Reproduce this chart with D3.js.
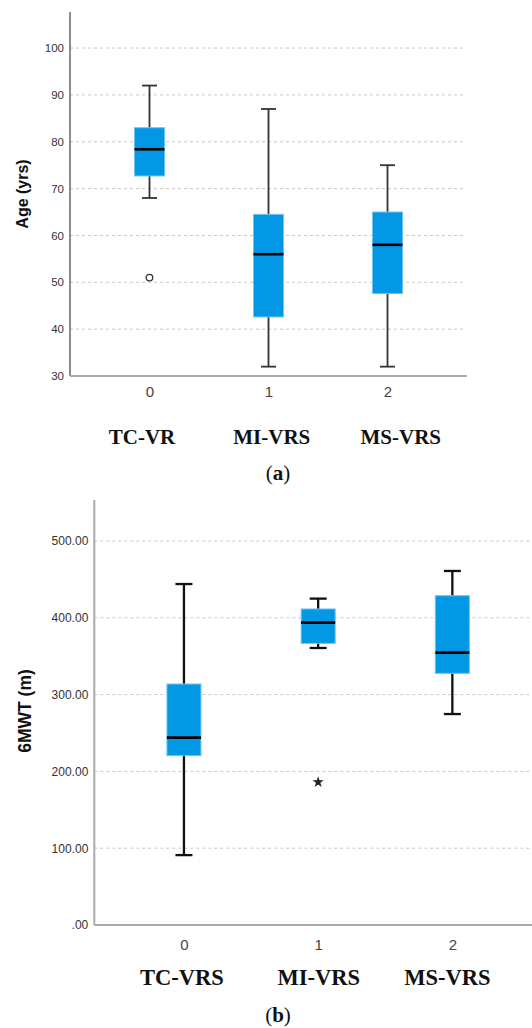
<!DOCTYPE html>
<html>
<head>
<meta charset="utf-8">
<script src="https://cdn.jsdelivr.net/npm/d3@7"></script>
<style>
  body { margin: 0; background: #fff; }
  svg { display: block; }
</style>
</head>
<body>
<script>
// group codes on the x axis and the names printed under them
const groupCodes = ["0", "1", "2"];
const ageGroups = ["TC-VR", "MI-VRS", "MS-VRS"];
const walkGroups = ["TC-VRS", "MI-VRS", "MS-VRS"];

// box stats: [lower whisker, Q1, median, Q3, upper whisker]
const ageStats = [
    [68, 72.7, 78.4, 83, 92],
    [32, 42.6, 56, 64.5, 87],
    [32, 47.6, 58, 65, 75]
];
const ageOutliers = [{ group: "0", value: 51, kind: "circle" }];
const ageTicks = [30, 40, 50, 60, 70, 80, 90, 100];

const walkStats = [
    [91, 220.5, 244, 313.8, 444],
    [360.7, 366.7, 393.7, 411.5, 425],
    [274.7, 327.7, 354.6, 428.8, 461]
];
const walkOutliers = [{ group: "1", value: 186, kind: "star" }];
const walkTicks = [0, 100, 200, 300, 400, 500];

const svg = d3.select("body").append("svg")
    .attr("width", 532)
    .attr("height", 1028);

function drawPanel(p) {
    var g = svg.append("g");

    var x = d3.scalePoint()
        .domain(groupCodes)
        .range([p.left, p.right])
        .padding(0.668);

    var y = d3.scaleLinear()
        .domain(p.domain)
        .range([p.bottom, p.top]);

    // dashed grid lines
    g.append("g").selectAll("line")
        .data(p.ticks.filter(function (t) { return t !== p.domain[0]; }))
        .enter().append("line")
        .attr("x1", p.left)
        .attr("x2", p.gridEnd)
        .attr("y1", function (d) { return y(d); })
        .attr("y2", function (d) { return y(d); })
        .attr("stroke", "#c8c8c8")
        .attr("stroke-width", 1)
        .attr("stroke-dasharray", "3,3");

    // y axis
    var yAxis = d3.axisLeft(y)
        .tickValues(p.ticks)
        .tickSize(0)
        .tickPadding(6)
        .tickFormat(p.format);
    var ya = g.append("g")
        .attr("transform", "translate(" + p.left + ",0)")
        .call(yAxis);
    ya.select(".domain").remove();
    ya.selectAll("text")
        .attr("font-family", "Liberation Sans, Arial, sans-serif")
        .attr("font-size", p.tickSize)
        .attr("fill", "#333");

    // axis lines
    g.append("line")
        .attr("x1", p.left).attr("x2", p.left)
        .attr("y1", p.top).attr("y2", p.bottom)
        .attr("stroke", p.axisColor)
        .attr("stroke-width", p.axisWidth);
    g.append("line")
        .attr("x1", p.left).attr("x2", p.gridEnd + 2)
        .attr("y1", p.bottom).attr("y2", p.bottom)
        .attr("stroke", "#aaa")
        .attr("stroke-width", 2);

    // x axis codes
    var xAxis = d3.axisBottom(x).tickSize(0).tickPadding(0);
    var xa = g.append("g")
        .attr("transform", "translate(0," + p.bottom + ")")
        .call(xAxis);
    xa.select(".domain").remove();
    xa.selectAll("text")
        .attr("dy", null)
        .attr("y", p.codeY - p.bottom)
        .attr("font-family", "Liberation Sans, Arial, sans-serif")
        .attr("font-size", 15)
        .attr("fill", "#444");

    // boxes
    var boxes = g.append("g").selectAll("g")
        .data(p.stats)
        .enter().append("g")
        .attr("transform", function (d, i) { return "translate(" + x(groupCodes[i]) + ",0)"; });

    boxes.append("line")
        .attr("x1", 0).attr("x2", 0)
        .attr("y1", function (d) { return y(d[0]); })
        .attr("y2", function (d) { return y(d[4]); })
        .attr("stroke", p.whiskerColor)
        .attr("stroke-width", p.whiskerWidth);
    boxes.selectAll(".cap")
        .data(function (d) { return [d[0], d[4]]; })
        .enter().append("line")
        .attr("class", "cap")
        .attr("x1", -p.capW / 2).attr("x2", p.capW / 2)
        .attr("y1", function (v) { return y(v); })
        .attr("y2", function (v) { return y(v); })
        .attr("stroke", p.whiskerColor)
        .attr("stroke-width", p.whiskerWidth);
    boxes.append("rect")
        .attr("x", -p.boxW / 2)
        .attr("width", p.boxW)
        .attr("y", function (d) { return y(d[3]); })
        .attr("height", function (d) { return y(d[1]) - y(d[3]); })
        .attr("fill", "#0398e5")
        .attr("stroke", "#6ec3ef")
        .attr("stroke-width", 1);
    boxes.append("line")
        .attr("x1", -p.boxW / 2).attr("x2", p.boxW / 2)
        .attr("y1", function (d) { return y(d[2]); })
        .attr("y2", function (d) { return y(d[2]); })
        .attr("stroke", "#000")
        .attr("stroke-width", 2.6);

    // outliers
    p.outliers.forEach(function (o) {
        if (o.kind === "circle") {
            g.append("circle")
                .attr("cx", x(o.group)).attr("cy", y(o.value))
                .attr("r", 3.3)
                .attr("fill", "#fff")
                .attr("stroke", "#333")
                .attr("stroke-width", 1.3);
        } else {
            g.append("path")
                .attr("transform", "translate(" + x(o.group) + "," + y(o.value) + ")")
                .attr("d", d3.symbol(d3.symbolStar, 40)())
                .attr("fill", "#222");
        }
    });

    // y title
    g.append("text")
        .attr("transform", "translate(" + p.titleX + "," + p.titleY + ") rotate(-90)")
        .attr("text-anchor", "middle")
        .attr("font-family", "Liberation Sans, Arial, sans-serif")
        .attr("font-weight", "bold")
        .attr("font-size", p.titleSize)
        .attr("fill", "#111")
        .text(p.title);

    // group names
    g.append("g").selectAll("text")
        .data(p.names)
        .enter().append("text")
        .attr("x", function (d, i) { return x(groupCodes[i]) + p.nameShift[i]; })
        .attr("y", p.nameY)
        .attr("text-anchor", "middle")
        .attr("font-family", "Liberation Serif, Times New Roman, serif")
        .attr("font-weight", "bold")
        .attr("font-size", p.nameSize)
        .attr("fill", "#111")
        .text(function (d) { return d; });

    // panel letter
    var cap = g.append("text")
        .attr("x", 278)
        .attr("y", p.letterY)
        .attr("text-anchor", "middle")
        .attr("font-family", "Liberation Serif, Times New Roman, serif")
        .attr("font-size", 21)
        .attr("fill", "#111");
    cap.append("tspan").text("(");
    cap.append("tspan").attr("font-weight", "bold").text(p.letter);
    cap.append("tspan").text(")");
}

drawPanel({
    stats: ageStats, outliers: ageOutliers, ticks: ageTicks, names: ageGroups,
    domain: [30, 107.7], format: d3.format("d"),
    left: 70, right: 467, top: 12, bottom: 376, gridEnd: 465,
    tickSize: 11.5, axisColor: "#666", axisWidth: 1.5,
    boxW: 30, capW: 15, whiskerColor: "#333", whiskerWidth: 1.8,
    codeY: 397, nameY: 444, nameSize: 21, nameShift: [-7.5, 3.3, 13.3],
    letter: "a", letterY: 480,
    title: "Age (yrs)", titleX: 28, titleY: 194, titleSize: 16
});

drawPanel({
    stats: walkStats, outliers: walkOutliers, ticks: walkTicks, names: walkGroups,
    domain: [0, 553.4], format: function (d) { return d === 0 ? ".00" : d3.format(".2f")(d); },
    left: 94.3, right: 542, top: 500, bottom: 925, gridEnd: 532,
    tickSize: 12, axisColor: "#aaa", axisWidth: 2,
    boxW: 34, capW: 17, whiskerColor: "#111", whiskerWidth: 2.3,
    codeY: 950, nameY: 985, nameSize: 22.5, nameShift: [-2, 0.7, -5],
    letter: "b", letterY: 1022,
    title: "6MWT (m)", titleX: 31, titleY: 711, titleSize: 17.5
});
</script>
</body>
</html>
